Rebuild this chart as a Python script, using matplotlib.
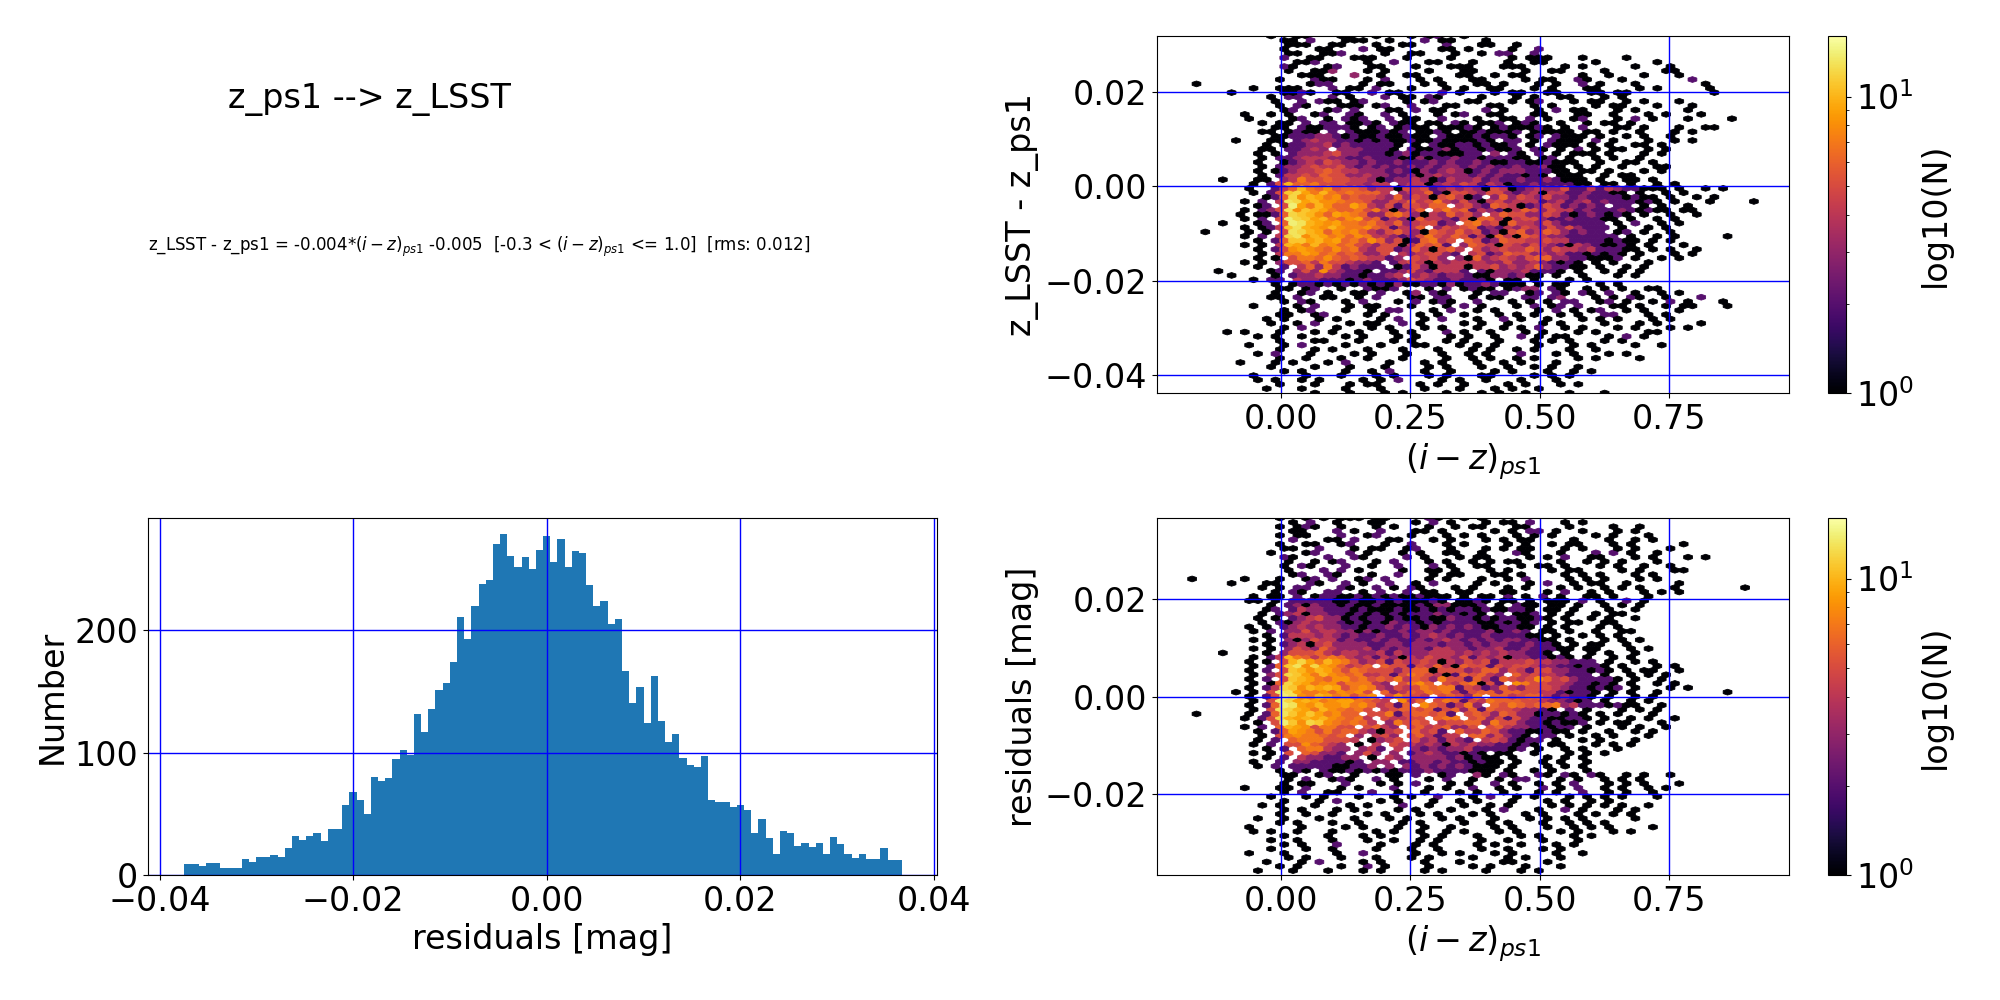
import numpy as np
import matplotlib
matplotlib.use("Agg")
import matplotlib.pyplot as plt
from matplotlib.colors import LogNorm

# histogram of the residuals, counts read bar by bar
hist_lo = -0.03745
hist_hi = 0.03667
hist_counts = [9, 9, 7, 10, 10, 6, 6, 6, 13, 11, 15, 15, 16, 15, 22, 32, 29, 32, 34, 28,
               38, 38, 57, 68, 61, 50, 80, 77, 79, 95, 102, 98, 132, 117, 136, 151, 157, 174, 211, 193,
               220, 238, 241, 271, 279, 261, 252, 260, 250, 266, 277, 256, 275, 252, 265, 263, 237, 220, 224, 205,
               209, 167, 141, 154, 124, 163, 126, 109, 115, 96, 90, 88, 97, 61, 60, 60, 56, 57, 53, 34,
               46, 30, 17, 36, 34, 24, 26, 23, 26, 17, 31, 25, 17, 14, 17, 13, 13, 22, 12, 12]

# hexbin cell counts, one string per hex row from the top
# '.' is an empty cell, the others are hex digits
xlim_hex = (-0.2385, 0.981)
ylim_top = (-0.0438, 0.0319)
ylim_bot = (-0.0368, 0.0368)
grid_n = 72

top_rows = [
".............1..11...11..1...1.12..1",
"..............11.2...111..1...2.11...1",
"...............111..11...1..11...2...11..1",
"..............1...11...2.11.....11.1....1..2",
"...............11..112....1..11...1..1.22..2",
"..............2..11...111...1....1......1.111...1....1",
"................112.....1..2...11...1...1..11.....1......1",
"..............21...12...11...1...111...111....1.1.....1...1",
"...............1..113...1.1....1...11.....1..11....1......11",
"................111...3..1..11....11..1.11......1..1...1...1",
"..............1...211...1.2...1.1...11....1.11..21...1.......2",
"....1............122...1.11...1.1...11.1...1.1..2.1...1.......1",
"...........1..111...2.11.2...1...1.1..11...1.1...11....1.1.....1",
"........1.....1121..11..2.11....2.1...1.11..11...11.11.........1",
".............1.22...2.1...2.11.21....1...1.1..11...1.1",
".............1..2.211.12....1.12...11...1.12...1.11..1.1...1",
"..............1.21...111.12..2...11...11...1.1....1.11...1...1",
"..............12...12.2...11.2.11....2.1...1.2.11...1.1.....1",
"..........1..1.1..12..21..2.1...1.12..11...11...11..1...1.1...1",
"..........1....12..1.212..2.11..2...1..11.2.1..12...1.2.1...1....1.......1",
"............1.11.2.22.1121.211.11.21.112.121..1..1.11.1",
".............11.2112221.12.1211.11121.1211121.1.2...11.1...1..11",
"............11.1211.2.2111212.1121.1121112.11111.11.1..1...1.1",
".............112223321211211211.211121221.12.2111.1..1.1..1",
".........1...11.23433221212112112111121.22.1.2111.2.1...1..1.1",
"............1.12233423222221.1.2112212112.1.2111.1.1..11.1",
"............11.22343.3332221.2112312212112.21.1.2.1.11..1.1",
"...........1.1.2333453322212312211122.3.21.2.1.111.1...1.1",
"............1.22344433223222113122322122211.12.1..1.1..1",
"...........1..1234354332322322232322321122112111..1..11.1",
"............1.233454453232322323233232322322311.1.1..1...11",
"...........1.1234456544333232132343123233322211.11.1...1.1",
"............1.2445465533433223134333232322121.111..1.11",
".......1...11.34755655443123343124334232232232111.1..11.1",
"...........1.25a66755544344.3441343542431223222211.11.1..1.1",
"..........1..246a76856653441545234343154123433522424322111.1..1.1",
"...........1.25bc97a7676664.34462155435532341442232211.1..1.1",
"............126c8a9785655436354156412.3635435332322221211.1..1.1",
"..........1.2.4dc9a887665335464574353145344423423423222121.1...1....1",
"...........12.5e97a86697435255466.45326541235423232.22.1.1..1",
"..........1.235d8ba976675741346.575624321465354423222321211.11",
".........1.1126cba8698763367531436453.4655335421232121.1..1..1",
"..........1.2.5ecb9a768956243164432516641455322322211.1..1.1",
".......1...12.6eda9897767546345523.6745164435322222.1.2..1.1",
"..........1.124bda98a8778652446.35456232435435353222.1..1.1",
".....1....1.1.5dca968786435643165464523156346532322.12.1..1",
"..........1.2.4cd8a9786874432357546524164165433222222.1..1.1.....1",
"...........1.26bb9a896758635126745.65236554454422221211.1.1",
"..........1.1.4a97a786754355146562.36541543543214321121.1...1",
"...........1.2589876867435523641564.5345446535443422211.1.1..1",
"............1.4779867565335.4345532.452365534342212121.1...1.1",
"...........1.1.5776865654423.5453.3163454356633221112.1..1.1",
"..........1.1.355647554332.2454143444433533432121.1.1...1",
"...........1..2.4637423222.1253144414453434632211.1..1.1",
".......1.....12.353843221.2235324442.2133342221.1..1.1.1",
"........1....1.2334332212234.343233211332311.1..1...1.1",
"...........1.22.43322212322235432232221.11.1...1.1",
".............1.122121212121311221312232111.1.11...1.1",
"..............11.12..1..2112...1.2.1211.1233.21..1.1.1..11",
".............1..12.1..11.2..13.21...1.22..12.21.21.2..1..1.1",
".............11.2..11..1.2...11.22..1.11..22.23...1.1.21..1...2",
"..............1.21...1.2...1.2.121..2...1.1.1.22..12.1..1.2.1...1",
"...........1....1.2...1.11...1...1.2.1...1.2.12.2...11.1..1.11...1",
"..............1.12...1..1.22...1.2..1.1....1.2.1.12..1.1...1",
"..............11..12....1.1...1.1..1...1.1.1..1.1..22...1.1",
"............1.1...1.1....1.2..1.2...1..2.1..1...1.1.1...1.1",
".............1..1.2...1.11..2.1....1.1..1...1.1....1...1.1....1",
"..............1.2...1...1.1...1.1...1..1.1.2..1.1...1.1...1.1",
"........1.1...1...1.1..1...1.1...2.1..1...1.1...1.1.....11",
"...........1.1..1....1.1...1.1...1.1..1..2.1.11....1.2.1",
"..............1...11...1...1.1...1.1...1...1.1.1...1.1",
"..........1...1.2....1...1...11...1.1.1....1...1.1....1..1",
"..............1...1.1...1...1...1...1.1..1.1...1..1",
"...........1.2...1....1.1...1...1..1.1...2...1.1...1.1",
"..............1..1...1..1...1....1..1.1..1.1....1.1....1",
".........1...1.1...1.2....1...1.1...1..1.1...1",
".............1....1...1...1....1.1...1..1..1.1..1",
"..............1.1....1..1.2...1..1....1.1...1..1.1",
"...........1.....1...1...1.1...1.1...11....1.1.1",
"...........1.1..1.1....1.1.2....1.1..1...1...1",
"..............1...1...1.11....1.1..1....1.1...1.1",
"............1...1....1...1....1...1...1.1..1",
"..................1...1...1.1....1...1.1..1....1...1",
]

bot_rows = [
"..............1..1.1.111.11....21..1.1",
"...............1.2..1...11...1.2.1...1.11.2...1.1",
"..............1.121..1...1.1...1..1.11...11....1....1..1",
"...............11...2.1..2...11.1.....1.1.22.1..1...1.1",
"..............1.11...2..12...1...1.1.1...1.1.1....1.1...1",
"...............2...11.2...11...1.1...1.1.11....1...1..1.1",
"..............1..11..12...1..2...1.1....1.1..1.11...1.1.....1",
"..............11..2...1.11..12...1...1.1.11...1.1...1.1...1",
".............1...12...2.1...1.1..11..1...21...1...2.2.1..1",
"..............21...2..21....2.1...1.11....1.1.2..11...1.1...1.1",
"...............1..1.12...1.2...1.1..1.1.11....1..1.1.1...1",
"..............1.21...2..1..2...2.1..11...1.11.1...1.1..1..1",
"...............1...2.2.1....1..11.1...1.1....1.11....1.1...11",
"...............12..21...1..2...1.11...11.1....1.1.1...1.1",
"....1.....1...1..12.2..12.2....1.1...1..1.2....1.1.1...1.1",
"........1...11...21..2.1..2..1.2....1.1...1.2..1.11..1.....1",
"............1.1.22...21..2.1.21...1.1...1.1...1.1..1.1.1...1.......1",
".............1.21..22..1.2..2.11..11...11...1.2..1.1...1.1.1",
"...........1.11.2.1221121212112111.1.11.2.1.2.1..11.1...1",
"..........11.1.222221121121211121.1121.11.1.111.2.1..2.1",
".............1.23132212112111121331112.1.211.11.1..1.1.1",
"............12.2433222121112112121221211221.11.1...1..1",
"............1.234133221212121222322121.2.112.1.1..1.11",
"...........1.1.234533121221211211322121221121.1..1.1..1",
"............1.213433321212132212122221121212.1.11..11",
"..........1.1.23434332212232321323232112211.1.1...1.1",
"...........1.2.3353443313122323323222231232.11.1..1..11",
"............1.244434323223223234323223222211.1..1.1.1",
"...........1.1.3135442322323223234323232332211.1...1.1.1",
"............1.23414533332233233323323233223221.1.11..1",
"...........1.1.354364333423233324433233422322211.11...1.1",
".......1....1.3555643443342433344434343433221.1..1.1..1",
"...........1.24a76467643424314354435243413322121.1..1.1",
"..........1.1.5ac97a875345254454143545244454433222.1..1.1",
"...........1.26bd8c986456.65525464165525455433221221.1...1.1",
"..........1.2.5ba8a975765553566155534663542553322121.1.11..1",
"...........1.35cb97a87674452576541265643.645443222.1..1.1.1",
"..........1.2.5ba976886756574653755264265458645322221.1..1",
"...........1.16ca9788577743.5786.5467152.875544322121.1..1.1",
"..........1.24cb8a9a957874354576772542364355543221212.1...1.1",
".........1.1.5ed977868785.6346576742566366554421221.1.1..1.......1",
"..........1.25ed87a978578.58654.56537.664566423221.1..1.1",
"...........1.5ec9a978997654.846.576254766655433212.1..1.1",
"..........1.26ed98a8897864526.8652473.65765667342221211..1",
"...........1.5dca97a87675.45665625636265543321.2.1...1.1.1",
"....1.....1.26db9b97866.5572566562.56536533122121.1.1...1",
"..........1.25ca9a9a87674.54455.677.56352532211221.1..1.1..1",
"...........1.5eb8cb876764.37565.45566375532212112.1.11...1",
"..........1.2.6a9857755.5643.56456335.5643322122.1...1.1..1",
"...........1.269875756643145.6452.6446532211211.1..1..1.1",
"............1.57877656.3.453.564244.6635321.22.1..1.1...1",
"...........1.2.67775554.1345.5342432.4542122.1..1.1...1",
"...........1.2.5586543.1.4.54434314343322121.11...1.1.1",
"............1.2.677433.342.4.3232334222212.1..1.1...1",
"...........1.1.5.65332.353.3.234322121.11..1...1.1.1",
"............1.2.4332233.1.43.3333231211.1...1.1.1",
"...........1..2.33222212.33.223323221211.1..1.1..1",
"...........1.2.2222211223.3.32323232111.1...1.1.1",
"..............1.21.21121212122232222111.1..1.1...1",
"..............11..12..1...11.2..12..31.21..21.21.21..1.1..1",
"...............1.2..121..2.1...1.2..1..1.22...1.1..1.1.1",
"..............1.11...2...1.1.2...1.1..2.1..1.1.2...1.1.1...1",
"..........1...11.2...1.1...2...1.1..2..1.1..2.1.2..1.1..1.1",
"..............1.2..11...2..1..1...1.1..1...1.1..2..1.1..1",
".............1...1.1...1...1.1..2...1.2..1.1...1.1.1.1...1",
"..............1...1.2....1.1...1..1.1...1...1.1..1.1",
"............1.1...1...1.1...2..1...1..1.1....1.1.1.1.1..1",
"..............1.1...1.1....1.1...1...1.2...1..2.1...1.1",
"..............1..1..1...1.1...1.1...1.1...1.1...1.1.1.1",
"...........1..1...1...1...1.1...1.1...1...1.1.1.1.....1",
"..............1.1...1..1....1.1....1..1.1...1..1.1.1",
"..........1.....1....1.1...1..1..1....1.1...1..1.1.1....1",
"...........1.1..1...1....1.1..1..1.1...1.1....1.1...1.1",
"..............1....1...1.1....1.1...1....1.1...1.1",
".............1..1...1...1..1..1.1....1..1...1...1",
"..............1.1...2....1...1.1....1.1..1...1.1",
".............1...1..1....1...1..1....1..1...1.1",
"..........1...1.....1..2.....1..1.1...1.1....1..1",
"...............1.1...1...1...1.1....1...1.1...1",
"............1...1.2....1.1....1...1....11...1",
"..............1.1....1..2.1....1....1.1...1...1",
"...........1...1...1...1.1....1.1....1...1.1",
]


def add_axes_px(fig, left, right, top, bottom):
    # pixel box on the 2000x1000 canvas
    return fig.add_axes([left / 2000, 1 - bottom / 1000, (right - left) / 2000, (bottom - top) / 1000])


def cells_from_rows(rows, xlim, ylim, n):
    sx = (xlim[1] - xlim[0]) / n
    sy = (ylim[1] - ylim[0]) / int(n / np.sqrt(3))
    xs, ys, counts = [], [], []
    for r, row in enumerate(rows):
        for c, ch in enumerate(row):
            if ch == ".":
                continue
            xs.append(xlim[0] + (c + 0.5 * (r % 2)) * sx)
            ys.append(ylim[1] - r * sy / 2)
            counts.append(int(ch, 16))
    return xs, ys, counts


def draw_hex(fig, rows, ylim, box, ylabel):
    ax = add_axes_px(fig, box[0], box[1], box[2], box[3])
    xs, ys, counts = cells_from_rows(rows, xlim_hex, ylim, grid_n)
    hb = ax.hexbin(xs, ys, C=counts, reduce_C_function=np.sum, gridsize=grid_n,
                   extent=(xlim_hex[0], xlim_hex[1], ylim[0], ylim[1]),
                   cmap="inferno", norm=LogNorm(vmin=1, vmax=16), linewidths=0.6)
    ax.set_xlim(xlim_hex)
    ax.set_ylim(ylim)
    ax.set_xticks([0.0, 0.25, 0.5, 0.75])
    ax.grid(color="blue", linewidth=1)
    ax.tick_params(labelsize=24)
    ax.set_xlabel("$(i-z)_{ps1}$", fontsize=24)
    ax.set_ylabel(ylabel, fontsize=24)
    cax = add_axes_px(fig, 1828, 1846, box[2], box[3])
    cb = fig.colorbar(hb, cax=cax)
    cb.ax.tick_params(labelsize=24)
    cb.set_label("log10(N)", fontsize=24)
    return ax


fig = plt.figure(figsize=(20, 10), dpi=100)

fig.text(369 / 2000, 1 - 100 / 1000, "z_ps1 --> z_LSST", fontsize=24, ha="center", va="center")
fig.text(148 / 2000, 1 - 247 / 1000,
         "z_LSST - z_ps1 = -0.004*$(i-z)_{ps1}$ -0.005  [-0.3 < $(i-z)_{ps1}$ <= 1.0]  [rms: 0.012]",
         fontsize=12, ha="left", va="center")

ax_hist = add_axes_px(fig, 148, 937, 518, 875)
edges = np.linspace(hist_lo, hist_hi, len(hist_counts) + 1)
ax_hist.hist(edges[:-1], bins=edges, weights=hist_counts)
ax_hist.set_xlim(-0.0412, 0.0403)
ax_hist.set_ylim(0, 292)
ax_hist.set_xticks([-0.04, -0.02, 0.0, 0.02, 0.04])
ax_hist.set_yticks([0, 100, 200])
ax_hist.grid(color="blue", linewidth=1)
ax_hist.tick_params(labelsize=24)
ax_hist.set_xlabel("residuals [mag]", fontsize=24)
ax_hist.set_ylabel("Number", fontsize=24)

draw_hex(fig, top_rows, ylim_top, (1157, 1789, 36, 393), "z_LSST - z_ps1")
draw_hex(fig, bot_rows, ylim_bot, (1157, 1789, 518, 875), "residuals [mag]")

fig.savefig("out.png", dpi=100)
